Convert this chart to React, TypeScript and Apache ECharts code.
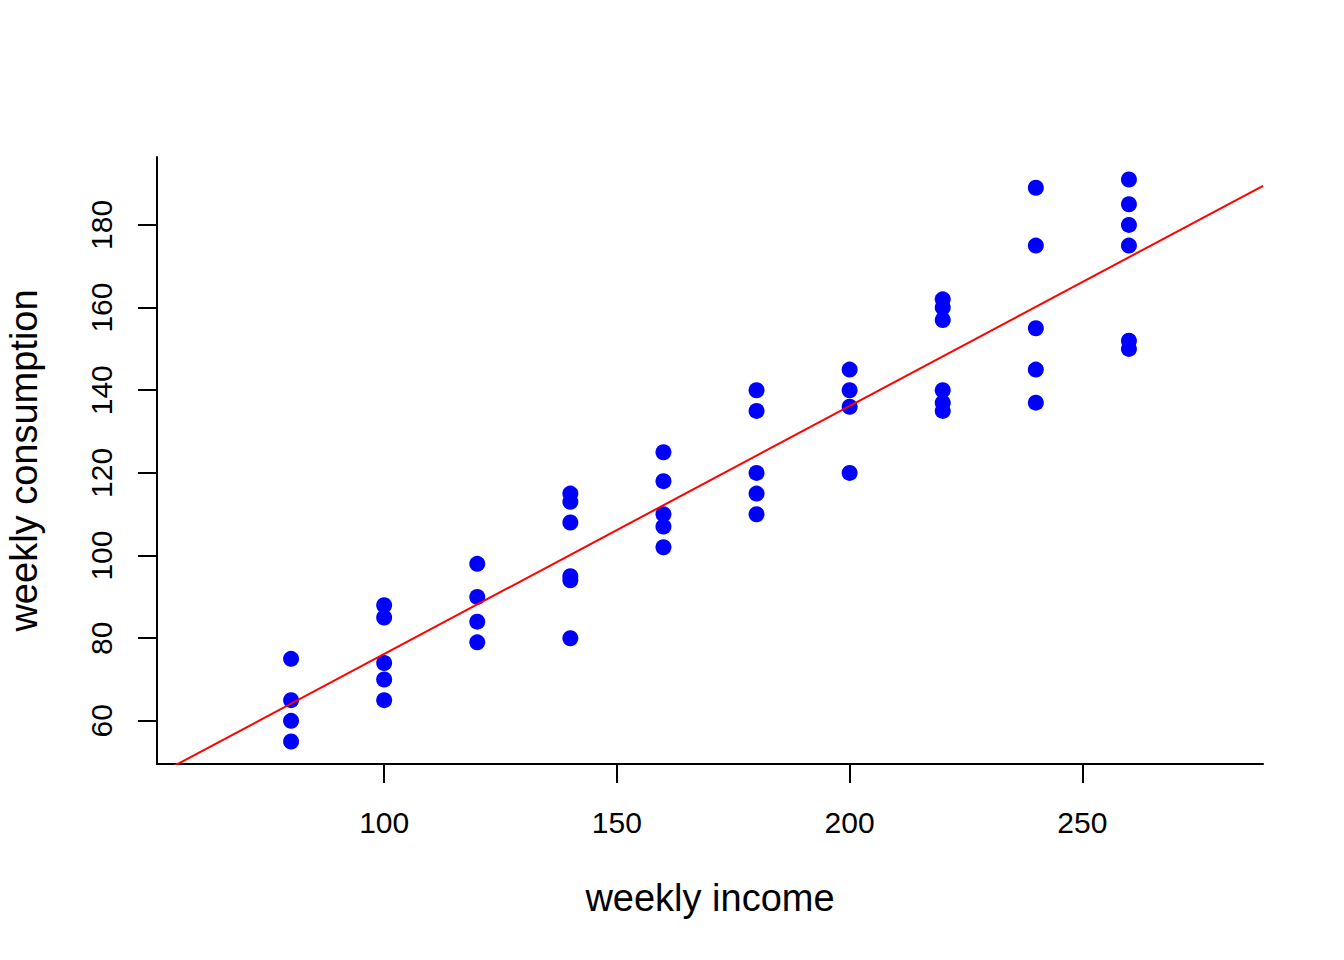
import React, { useEffect, useRef } from "react";
import * as echarts from "echarts";

// weekly income levels (x) and the sampled weekly consumption values (y) at each level
const incomeLevels = [80, 100, 120, 140, 160, 180, 200, 220, 240, 260];
const consumptionByIncome = [
  [55, 60, 65, 75],
  [65, 70, 74, 85, 88],
  [79, 84, 90, 98],
  [80, 94, 95, 108, 113, 115],
  [102, 107, 110, 118, 125],
  [110, 115, 120, 135, 140],
  [120, 136, 140, 145],
  [135, 137, 140, 157, 160, 162],
  [137, 145, 155, 175, 189],
  [150, 152, 175, 180, 185, 191],
];
const xTicks = [100, 150, 200, 250];
const yTicks = [60, 80, 100, 120, 140, 160, 180];
const xLimits = [51.2, 288.8];
const yLimits = [49.56, 196.44];

const points: number[][] = [];
incomeLevels.forEach((x, i) => {
  consumptionByIncome[i].forEach((y) => points.push([x, y]));
});

// least-squares fit (abline(lm(y ~ x)))
function fit(pts: number[][]) {
  const n = pts.length;
  const mx = pts.reduce((s, p) => s + p[0], 0) / n;
  const my = pts.reduce((s, p) => s + p[1], 0) / n;
  let sxy = 0;
  let sxx = 0;
  pts.forEach((p) => {
    sxy += (p[0] - mx) * (p[1] - my);
    sxx += (p[0] - mx) * (p[0] - mx);
  });
  const b = sxy / sxx;
  return { a: my - b * mx, b };
}
const { a, b } = fit(points);
const fitLine = xLimits.map((x) => [x, a + b * x]);

const FONT = "'Liberation Sans', Arial, Helvetica, sans-serif";

export default function App() {
  const ref = useRef<HTMLDivElement>(null);
  useEffect(() => {
    if (!ref.current) return;
    const chart = echarts.init(ref.current, null, { renderer: "svg" });
    chart.setOption({
      animation: false,
      backgroundColor: "#ffffff",
      textStyle: { fontFamily: FONT },
      grid: {
        left: 157,
        right: 81,
        top: 157,
        bottom: 196,
        containLabel: false,
        outerBoundsMode: "none",
      },
      xAxis: {
        type: "value",
        min: xLimits[0],
        max: xLimits[1],
        splitLine: { show: false },
        axisLine: { show: true, onZero: false, lineStyle: { color: "#000", width: 2 } },
        axisTick: {
          show: true,
          length: 19,
          inside: false,
          customValues: xTicks,
          lineStyle: { color: "#000", width: 2 },
        },
        axisLabel: {
          customValues: xTicks,
          fontSize: 30,
          margin: 43,
          color: "#000",
          fontFamily: FONT,
        },
        name: "weekly income",
        nameLocation: "middle",
        nameGap: 115,
        nameTextStyle: { fontSize: 38, color: "#000", fontFamily: FONT },
      },
      yAxis: {
        type: "value",
        min: yLimits[0],
        max: yLimits[1],
        splitLine: { show: false },
        axisLine: { show: true, onZero: false, lineStyle: { color: "#000", width: 2 } },
        axisTick: {
          show: true,
          length: 19,
          inside: false,
          customValues: yTicks,
          lineStyle: { color: "#000", width: 2 },
        },
        axisLabel: {
          customValues: yTicks,
          fontSize: 30,
          margin: 41,
          rotate: 90,
          color: "#000",
          fontFamily: FONT,
        },
        name: "weekly consumption",
        nameLocation: "middle",
        nameGap: 114,
        nameTextStyle: { fontSize: 38, color: "#000", fontFamily: FONT },
      },
      series: [
        {
          type: "scatter",
          data: points,
          symbol: "circle",
          symbolSize: 16,
          itemStyle: { color: "#0000ff", opacity: 1 },
          z: 2,
        },
        {
          type: "line",
          data: fitLine,
          showSymbol: false,
          clip: true,
          lineStyle: { color: "#ff0000", width: 2 },
          z: 3,
        },
      ],
    });
    return () => chart.dispose();
  }, []);
  return (
    <div
      ref={ref}
      style={{ position: "absolute", left: 0, top: 0, width: 1344, height: 960, background: "#fff" }}
    />
  );
}
